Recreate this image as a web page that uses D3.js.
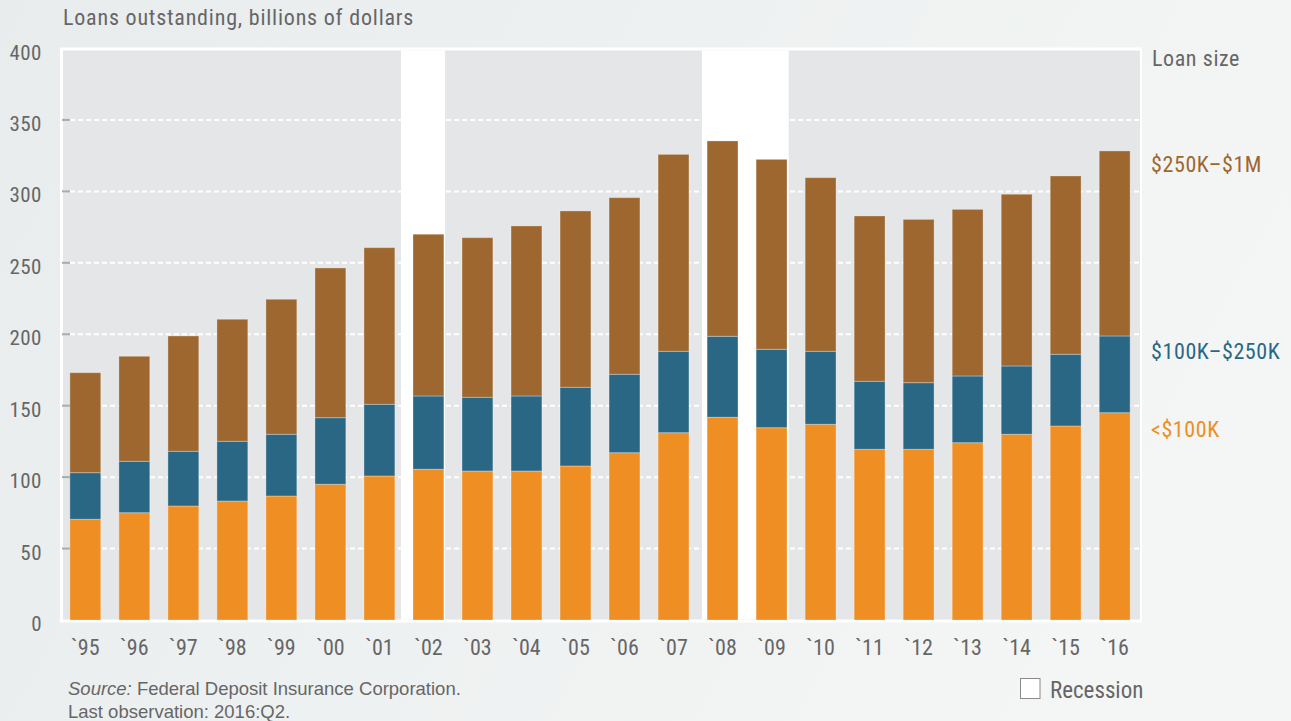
<!DOCTYPE html>
<html>
<head>
<meta charset="utf-8">
<script src="https://cdn.jsdelivr.net/npm/d3@7/dist/d3.min.js"></script>
<style>
  html, body { margin: 0; padding: 0; }
  body { width: 1291px; height: 721px; overflow: hidden; }
  svg { display: block; }
  .cond { font-family: "Liberation Sans Narrow", "Roboto Condensed", "Arial Narrow", sans-serif; }
  .reg { font-family: "Liberation Sans", Arial, sans-serif; }
</style>
</head>
<body>
<svg id="chart" width="1291" height="721"></svg>
<script>
// ---- data ----
const years = [1995,1996,1997,1998,1999,2000,2001,2002,2003,2004,2005,2006,2007,2008,2009,2010,2011,2012,2013,2014,2015,2016];
const yearLabels = ["`95","`96","`97","`98","`99","`00","`01","`02","`03","`04","`05","`06","`07","`08","`09","`10","`11","`12","`13","`14","`15","`16"];
const under100K = [70.5,75.1,79.8,83.3,86.8,95.0,100.8,105.5,104.3,104.3,107.8,117.1,131.1,141.9,134.6,137.0,119.5,119.5,124.1,130.0,135.8,145.1];
const from100Kto250K = [32.6,36.0,38.3,41.8,43.2,46.6,50.2,51.3,51.6,52.5,55.1,54.9,57.0,56.7,54.9,51.1,47.6,46.6,46.7,47.8,50.2,53.7];
const from250Kto1M = [70.0,73.5,80.7,85.4,94.5,104.8,109.6,113.2,111.7,119.0,123.4,123.6,137.8,136.7,132.9,121.5,115.7,114.3,116.6,120.2,124.8,129.5];
const seriesKeys = ["under100K","from100Kto250K","from250Kto1M"];
const seriesNames = ["<$100K","$100K\u2013$250K","$250K\u2013$1M"];
const seriesColors = ["#ee8e23","#296785","#9d672f"];
const yTicks = [0,50,100,150,200,250,300,350,400];
const recessions = [[2001.44, 2002.34],[2007.58, 2009.35]];

const table = years.map((y,i) => ({year:y, under100K:under100K[i], from100Kto250K:from100Kto250K[i], from250Kto1M:from250Kto1M[i]}));

// ---- layout ----
const svg = d3.select("#chart");
const W = 1291, H = 721;
const plot = {left:63, right:1140, top:50.5, bottom:619.5};

const defs = svg.append("defs");
const grad = defs.append("linearGradient").attr("id","bg").attr("x1","0").attr("y1","0").attr("x2","1").attr("y2","0.3");
grad.append("stop").attr("offset","0").attr("stop-color","#e8eced");
grad.append("stop").attr("offset","0.5").attr("stop-color","#eef1f1");
grad.append("stop").attr("offset","1").attr("stop-color","#f4f5f5");
svg.append("rect").attr("width",W).attr("height",H).attr("fill","url(#bg)");

const x = d3.scaleBand().domain(years).range([64,1136]).paddingInner(0.37).paddingOuter(0.12);
const y = d3.scaleLinear().domain([0,400]).range([620,48.5]);
const xYear = d3.scaleLinear().domain([years[0], years[years.length-1]])
  .range([x(years[0]) + x.bandwidth()/2, x(years[years.length-1]) + x.bandwidth()/2]);

// frame + background
svg.append("rect").attr("x",60).attr("y",47.5).attr("width",1082).attr("height",575).attr("fill","#ffffff");
svg.append("rect").attr("x",plot.left).attr("y",plot.top).attr("width",plot.right-plot.left).attr("height",plot.bottom-plot.top).attr("fill","#e5e6e8");

// recession bands
svg.append("g").selectAll("rect").data(recessions).join("rect")
  .attr("x", d => xYear(d[0]))
  .attr("width", d => xYear(d[1]) - xYear(d[0]))
  .attr("y", plot.top).attr("height", plot.bottom - plot.top)
  .attr("fill","#ffffff");

// gridlines
const grid = svg.append("g");
grid.selectAll("line.g").data(yTicks.filter(t => t>0 && t<400)).join("line")
  .attr("class","g")
  .attr("x1",70).attr("x2",plot.right)
  .attr("y1",d=>y(d)).attr("y2",d=>y(d))
  .attr("stroke","#ffffff").attr("stroke-width",2).attr("stroke-dasharray","5,3");
grid.selectAll("line.t").data(yTicks.filter(t => t>0 && t<400)).join("line")
  .attr("class","t")
  .attr("x1",62).attr("x2",70)
  .attr("y1",d=>y(d)).attr("y2",d=>y(d))
  .attr("stroke","#a9abad").attr("stroke-width",2);

// stacked bars
const stack = d3.stack().keys(seriesKeys)(table);
svg.append("g").selectAll("g").data(stack).join("g")
  .attr("fill",(d,i)=>seriesColors[i])
  .selectAll("rect").data(d=>d).join("rect")
  .attr("x", d => x(d.data.year))
  .attr("width", x.bandwidth())
  .attr("y", d => y(d[1]))
  .attr("height", d => y(d[0]) - y(d[1]))
  .attr("stroke","rgba(255,255,255,0.3)").attr("stroke-width",1);

// y axis labels
svg.append("g").selectAll("text").data(yTicks).join("text")
  .attr("class","cond")
  .attr("x",42).attr("y",d=>y(d)+11)
  .attr("text-anchor","end")
  .attr("font-size",21).attr("letter-spacing",0.5).attr("fill","#666666")
  .text(d=>d);

// x axis labels
svg.append("g").selectAll("text").data(years).join("text")
  .attr("class","cond")
  .attr("x",d=>x(d)+x.bandwidth()/2).attr("y",655)
  .attr("text-anchor","middle")
  .attr("font-size",22).attr("fill","#666666")
  .text((d,i)=>yearLabels[i]);

// title
svg.append("text").attr("class","cond").attr("x",63).attr("y",25)
  .attr("font-size",22).attr("letter-spacing",0.8).attr("fill","#666666")
  .text("Loans outstanding, billions of dollars");

// legend right
svg.append("text").attr("class","cond").attr("x",1152).attr("y",66)
  .attr("font-size",22).attr("letter-spacing",0.6).attr("fill","#666666").text("Loan size");
const legendY = [437, 359, 172];
svg.append("g").selectAll("text").data(seriesNames).join("text")
  .attr("class","cond")
  .attr("x",1151).attr("y",(d,i)=>legendY[i])
  .attr("font-size",22).attr("letter-spacing",0.6).attr("fill",(d,i)=>seriesColors[i])
  .text(d=>d);

// source
const src = svg.append("text").attr("class","reg").attr("x",68).attr("y",695)
  .attr("font-size",18.5).attr("fill","#666666");
src.append("tspan").attr("font-style","italic").text("Source:");
src.append("tspan").text(" Federal Deposit Insurance Corporation.");
svg.append("text").attr("class","reg").attr("x",68).attr("y",718)
  .attr("font-size",18.5).attr("fill","#666666").text("Last observation: 2016:Q2.");

// recession legend
svg.append("rect").attr("x",1020.5).attr("y",678.5).attr("width",19.5).attr("height",20)
  .attr("fill","#ffffff").attr("stroke","#8a8a8a").attr("stroke-width",1);
svg.append("text").attr("class","cond").attr("x",1050).attr("y",698)
  .attr("font-size",23).attr("fill","#666666").text("Recession");
</script>
</body>
</html>
